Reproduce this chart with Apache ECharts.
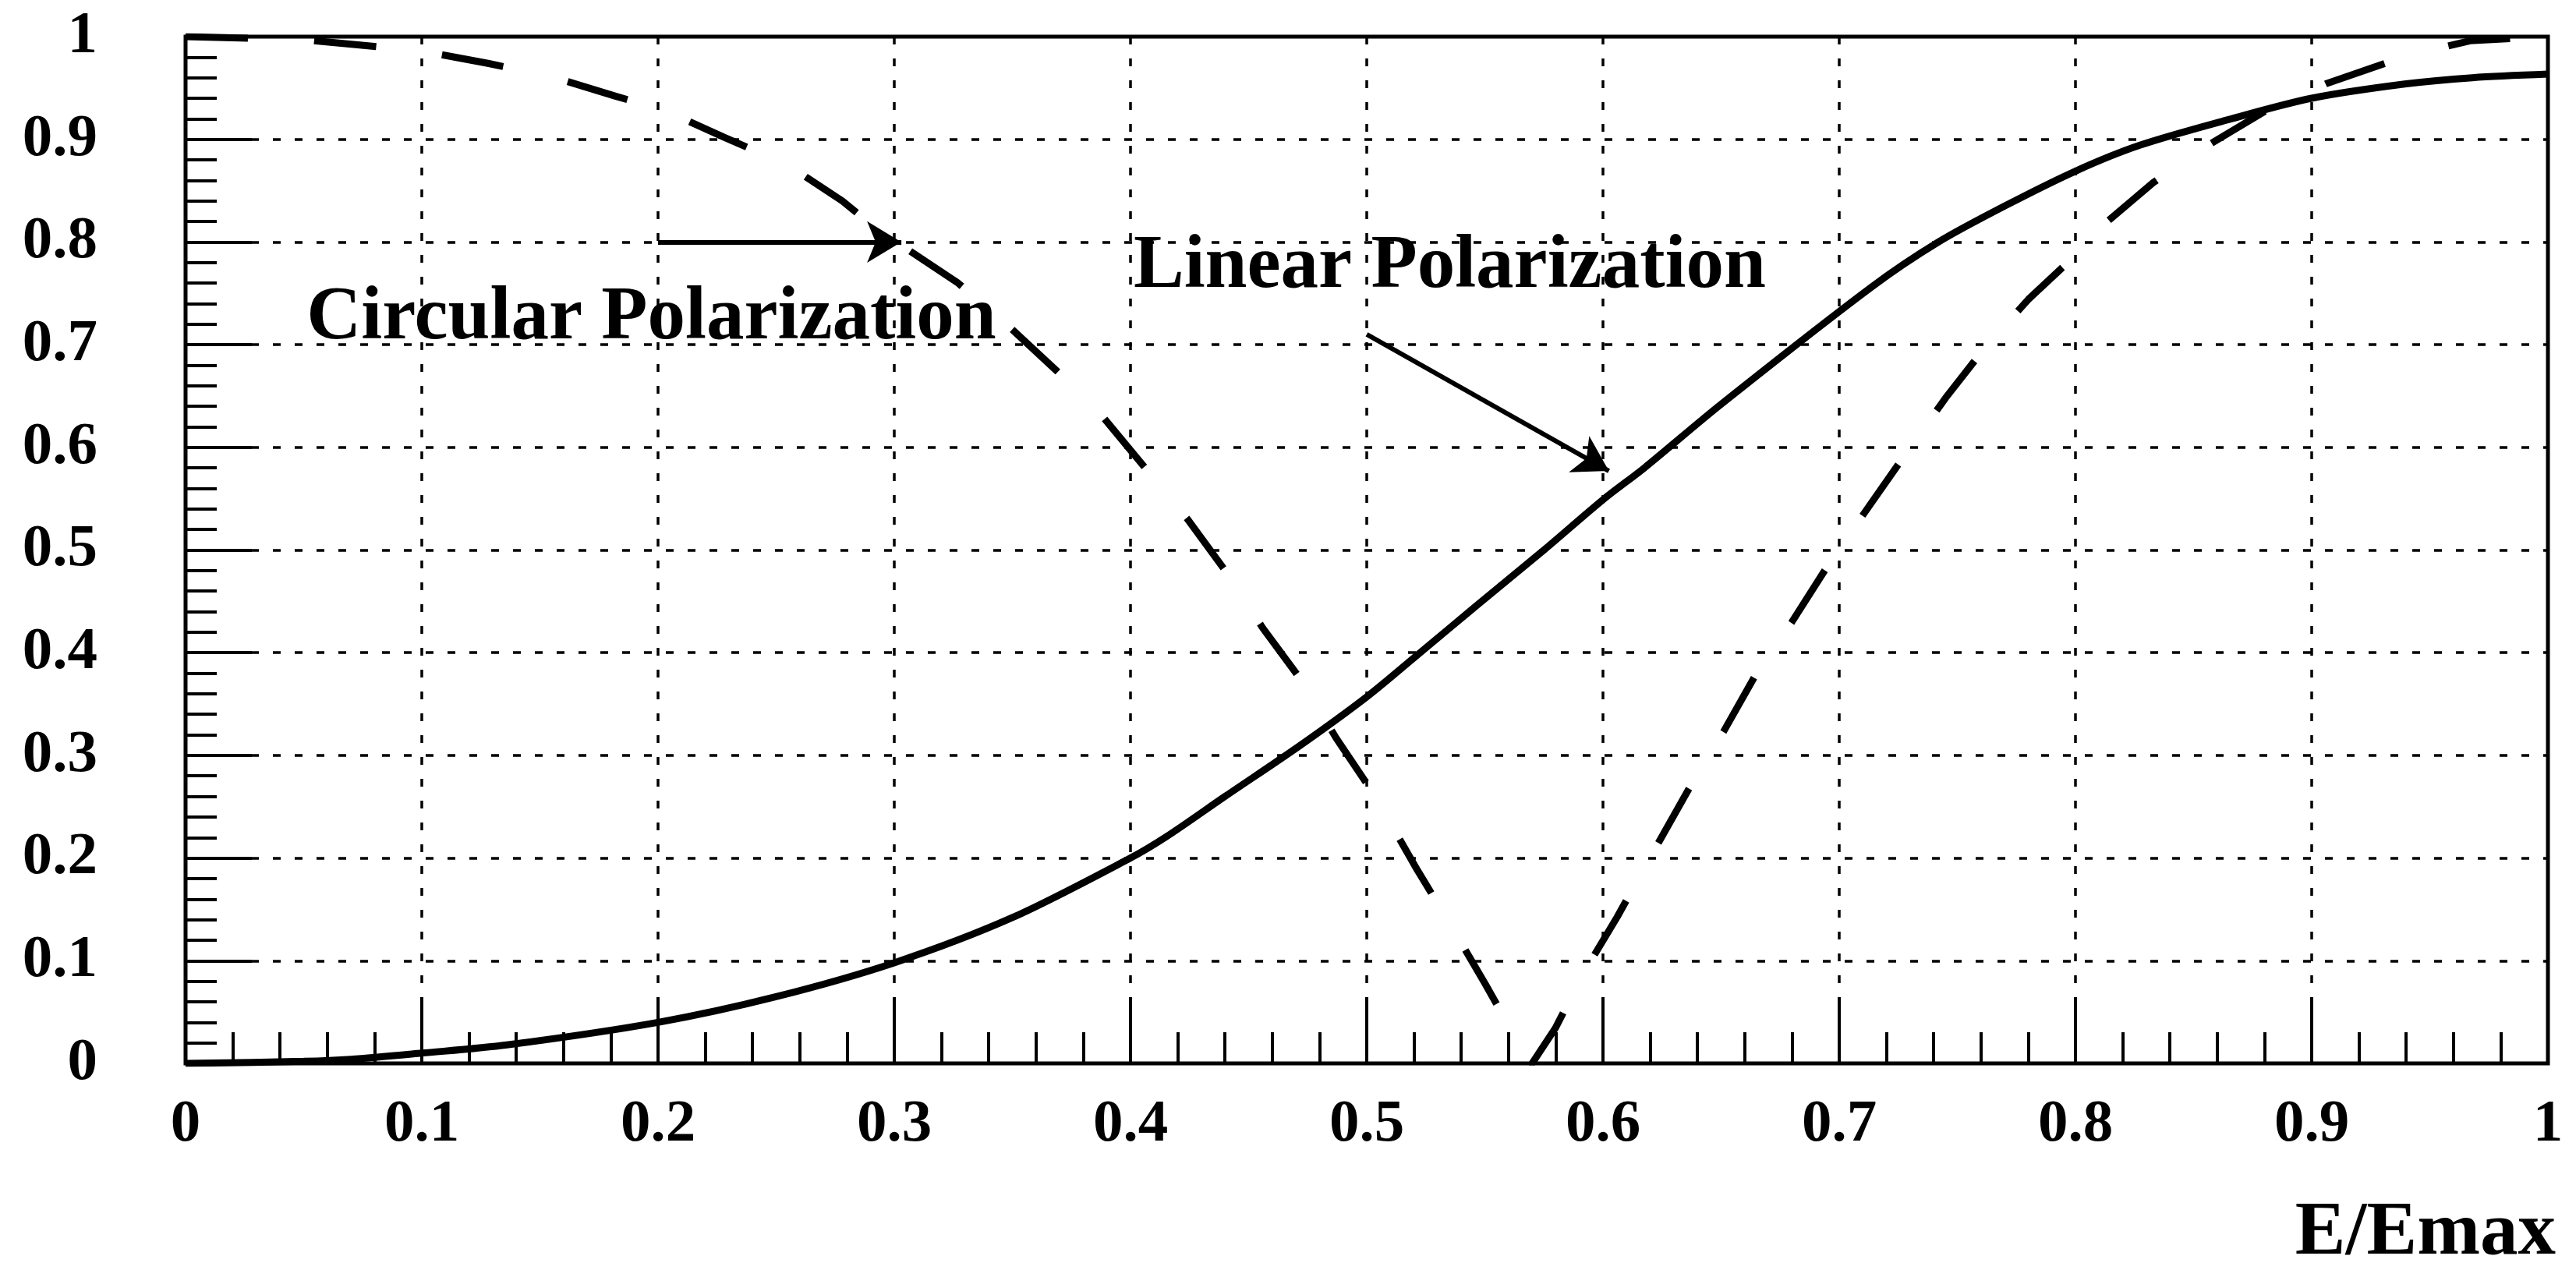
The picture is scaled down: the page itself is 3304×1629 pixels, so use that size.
<!DOCTYPE html>
<html>
<head>
<meta charset="utf-8">
<script src="https://cdn.jsdelivr.net/npm/echarts@6/dist/echarts.min.js"></script>
<style>
html,body{margin:0;padding:0;background:#ffffff;}
#chart{width:3304px;height:1629px;}
</style>
</head>
<body>
<div id="chart"></div>
<script>
// ---- data ----
const tickValues = [0, 0.1, 0.2, 0.3, 0.4, 0.5, 0.6, 0.7, 0.8, 0.9, 1];
const tickLabels = ['0', '0.1', '0.2', '0.3', '0.4', '0.5', '0.6', '0.7', '0.8', '0.9', '1'];

const linearX = [0, 0.05, 0.07, 0.1, 0.136, 0.2, 0.25, 0.3, 0.35, 0.4, 0.415, 0.44, 0.472, 0.5, 0.52, 0.546, 0.575, 0.6, 0.6175, 0.65, 0.7136, 0.742, 0.77, 0.8, 0.827, 0.8645, 0.9, 0.94, 0.968, 1.0];
const linearY = [0, 0.002, 0.004, 0.01, 0.018, 0.04, 0.065, 0.098, 0.142, 0.2, 0.2205, 0.26, 0.31, 0.357, 0.395, 0.445, 0.5, 0.549, 0.58, 0.642, 0.756, 0.8, 0.835, 0.869, 0.894, 0.919, 0.94, 0.954, 0.96, 0.9635];

const circularX = [0, 0.05, 0.1, 0.128, 0.155, 0.182, 0.203, 0.228, 0.255, 0.278, 0.293, 0.327, 0.347, 0.369, 0.3875, 0.4245, 0.4407, 0.456, 0.473, 0.487, 0.5025, 0.5215, 0.536, 0.55, 0.564, 0.57, 0.58, 0.592, 0.606, 0.623, 0.6375, 0.651, 0.665, 0.68, 0.6966, 0.724, 0.745, 0.762, 0.78, 0.8, 0.813, 0.833, 0.856, 0.88, 0.906, 0.94, 0.967, 1.0];
const circularY = [1.0, 0.997, 0.986, 0.974, 0.961, 0.942, 0.928, 0.902, 0.875, 0.84, 0.812, 0.76, 0.721, 0.674, 0.632, 0.529, 0.478, 0.424, 0.371, 0.317, 0.264, 0.188, 0.133, 0.078, 0.021, 0.0, 0.035, 0.089, 0.1426, 0.213, 0.272, 0.323, 0.38, 0.43, 0.49, 0.58, 0.648, 0.698, 0.744, 0.787, 0.819, 0.858, 0.894, 0.927, 0.954, 0.981, 0.996, 1.0];

const annotationTexts = ['Circular Polarization', 'Linear Polarization'];
const axisTitle = 'E/Emax';

// ---- chart ----
const FONT = '"Liberation Serif", "Times New Roman", serif';
const chart = echarts.init(document.getElementById('chart'), null, {renderer: 'canvas'});

const linearData = linearX.map((x, i) => [x, linearY[i]]);
const circularData = circularX.map((x, i) => [x, circularY[i]]);

function fmt(v) {
  const idx = tickValues.findIndex(t => Math.abs(t - v) < 1e-6);
  return idx >= 0 ? tickLabels[idx] : '';
}

const axisCommon = {
  type: 'value', min: 0, max: 1, interval: 0.1,
  axisLine: {show: false},
  axisTick: {show: true, inside: true, length: 85, lineStyle: {color: '#000', width: 4}},
  minorTick: {show: true, splitNumber: 5, length: 40, lineStyle: {color: '#000', width: 4}},
  splitLine: {show: true, lineStyle: {color: '#000', width: 3.5, type: [10, 18]}},
  minorSplitLine: {show: false}
};

chart.setOption({
  animation: false,
  backgroundColor: '#ffffff',
  grid: {left: 238, right: 36, top: 47, bottom: 265, show: true, borderColor: '#000', borderWidth: 5, backgroundColor: 'transparent', containLabel: false},
  xAxis: Object.assign({}, axisCommon, {
    axisLabel: {formatter: fmt, margin: 79, verticalAlign: 'middle', color: '#000', fontFamily: FONT, fontWeight: 'bold', fontSize: 77}
  }),
  yAxis: Object.assign({}, axisCommon, {
    axisLabel: {formatter: fmt, margin: 113, color: '#000', fontFamily: FONT, fontWeight: 'bold', fontSize: 77}
  }),
  series: [
    {
      name: 'Linear Polarization', type: 'line', data: linearData, smooth: 0.3,
      showSymbol: false, symbol: 'none', z: 3,
      lineStyle: {color: '#000', width: 9, type: 'solid'},
      markLine: {
        silent: true, symbol: ['none', 'arrow'], symbolSize: [40, 44],
        label: {show: false},
        lineStyle: {color: '#000', width: 6, type: 'solid'},
        data: [
          [{coord: [0.2, 0.8]}, {coord: [0.303, 0.8]}],
          [{coord: [0.5, 0.71]}, {coord: [0.6025, 0.577]}]
        ]
      }
    },
    {
      name: 'Circular Polarization', type: 'line', data: circularData, smooth: false,
      showSymbol: false, symbol: 'none', z: 3,
      lineStyle: {color: '#000', width: 9, type: [80, 85], cap: 'butt'}
    }
  ]
});

function placeText() {
  const p1 = chart.convertToPixel({gridIndex: 0}, [0.0512, 0.7254]);
  const p2 = chart.convertToPixel({gridIndex: 0}, [0.4013, 0.775]);
  const textStyle = (t, p, align) => ({
    type: 'text', silent: true, z: 10,
    style: {text: t, x: p[0], y: p[1], fill: '#000', font: 'bold 97px ' + FONT, textAlign: align, textVerticalAlign: 'middle'}
  });
  chart.setOption({
    graphic: [
      textStyle(annotationTexts[0], p1, 'left'),
      textStyle(annotationTexts[1], p2, 'left'),
      textStyle(axisTitle, [3278, 1583], 'right')
    ]
  });
}
placeText();
</script>
</body>
</html>
